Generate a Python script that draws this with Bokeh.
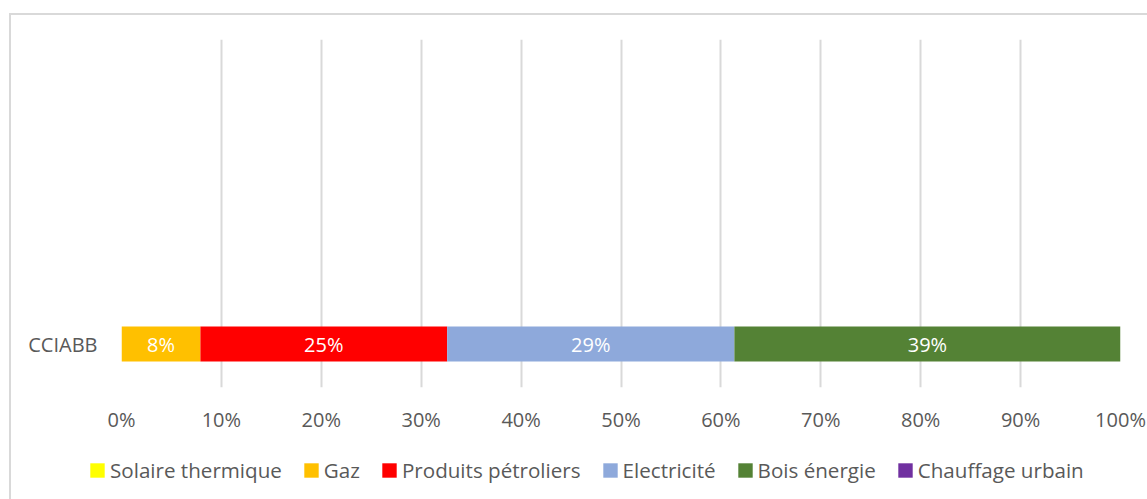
from bokeh.plotting import figure
from bokeh.layouts import column
from bokeh.models import (ColumnDataSource, Range1d, FixedTicker, Legend, LegendItem,
                          LabelSet, InlineStyleSheet)
from bokeh.core.properties import value
from bokeh.embed import file_html
from bokeh.resources import INLINE

# ---- data ----
categories = ["CCIABB"]
series = ["Solaire thermique", "Gaz", "Produits pétroliers", "Electricité",
          "Bois énergie", "Chauffage urbain"]
colors = ["#FFFF00", "#FFC000", "#FF0000", "#8EA9DB", "#548235", "#7030A0"]
solaire = [0.0]
gaz = [0.079]
petrole = [0.247]
electricite = [0.2875]
bois = [0.3865]
chauffage = [0.0]
x_ticks = [0.0, 0.1, 0.2, 0.3, 0.4, 0.5, 0.6, 0.7, 0.8, 0.9, 1.0]
x_tick_labels = ["0%", "10%", "20%", "30%", "40%", "50%", "60%", "70%", "80%", "90%", "100%"]
n_slots = 4  # category slots on the axis (only the first one is used)

FONT = "Open Sans"
TEXT = "#595959"
GRID = "#d9d9d9"
FS = "20px"
LEG_FS = "20.6px"

values = [solaire, gaz, petrole, electricite, bois, chauffage]
keys = ["s%d" % i for i in range(len(series))]
ypos = [i + 0.5 for i in range(len(categories))]
data = {"y": ypos}
for k, v in zip(keys, values):
    data[k] = v
source = ColumnDataSource(data)

# ---- main chart ----
p = figure(width=1147, height=435, output_backend="svg", toolbar_location=None,
           x_range=Range1d(0, 1), y_range=Range1d(0, n_slots),
           min_border_left=121, min_border_right=27, min_border_top=39,
           min_border_bottom=48)
p.frame_align = False
p.outline_line_color = None
p.background_fill_color = "white"
p.border_fill_color = "white"

renderers = p.hbar_stack(keys, y="y", height=0.4, fill_color=colors,
                         line_color=None, source=source)

# data labels
lx, ly, lt = [], [], []
for ci, y in enumerate(ypos):
    cum = 0.0
    for v in values:
        val = v[ci]
        if val > 0:
            lx.append(cum + val / 2)
            ly.append(y)
            lt.append("%d%%" % round(val * 100))
        cum += val
lab_src = ColumnDataSource(dict(x=lx, y=ly, t=lt))
p.add_layout(LabelSet(x="x", y="y", text="t", source=lab_src, text_color="white",
                      text_font=value(FONT), text_font_size=FS, text_align="center",
                      text_baseline="middle"))

p.xaxis.ticker = FixedTicker(ticks=x_ticks)
p.xaxis.major_label_overrides = {t: l for t, l in zip(x_ticks, x_tick_labels)}
p.xaxis.axis_line_color = None
p.xaxis.major_tick_line_color = None
p.xaxis.minor_tick_line_color = None
p.xaxis.major_tick_out = 0
p.xaxis.major_tick_in = 0
p.xaxis.major_label_standoff = 18
p.xaxis.major_label_text_font = FONT
p.xaxis.major_label_text_font_size = FS
p.xaxis.major_label_text_color = TEXT

p.yaxis.ticker = FixedTicker(ticks=ypos)
p.yaxis.major_label_overrides = {y: c for y, c in zip(ypos, categories)}
p.yaxis.axis_line_color = None
p.yaxis.major_tick_line_color = None
p.yaxis.minor_tick_line_color = None
p.yaxis.major_tick_out = 0
p.yaxis.major_tick_in = 0
p.yaxis.major_label_standoff = 24
p.yaxis.major_label_text_font = FONT
p.yaxis.major_label_text_font_size = FS
p.yaxis.major_label_text_color = TEXT

p.xgrid.ticker = FixedTicker(ticks=x_ticks)
p.xgrid.grid_line_color = GRID
p.xgrid.grid_line_width = 2
p.ygrid.grid_line_color = None

# ---- legend strip (same series, glyphs kept out of view) ----
q = figure(width=1147, height=64, output_backend="svg", toolbar_location=None,
           x_range=Range1d(0, 1), y_range=Range1d(10, 11),
           x_axis_location=None, y_axis_location=None, min_border=0)
q.frame_align = False
q.outline_line_color = None
q.grid.visible = False
q.background_fill_color = "white"
q.border_fill_color = "white"
q_renderers = q.hbar_stack(keys, y="y", height=0.4, fill_color=colors,
                           line_color=None, source=source)

legend = Legend(items=[LegendItem(label=s, renderers=[r]) for s, r in zip(series, q_renderers)],
                orientation="horizontal", location=(88, 15),
                glyph_width=18, glyph_height=18, label_standoff=4, spacing=20,
                padding=0, margin=0, border_line_color=None, background_fill_alpha=0,
                label_text_font=FONT, label_text_font_size=LEG_FS, label_text_color=TEXT)
q.add_layout(legend)

layout = column(p, q, spacing=0)

# chart-area border (cropped on the right and bottom by the window)
layout.stylesheets = [InlineStyleSheet(css="""
:host::after {
  content: "";
  position: absolute;
  left: 9px; top: 13px; right: 0px; bottom: 0px;
  border-left: 2px solid #d9d9d9;
  border-top: 2px solid #d9d9d9;
  pointer-events: none;
  z-index: 100;
}
""")]

open("out.html", "w").write(file_html(layout, INLINE))
